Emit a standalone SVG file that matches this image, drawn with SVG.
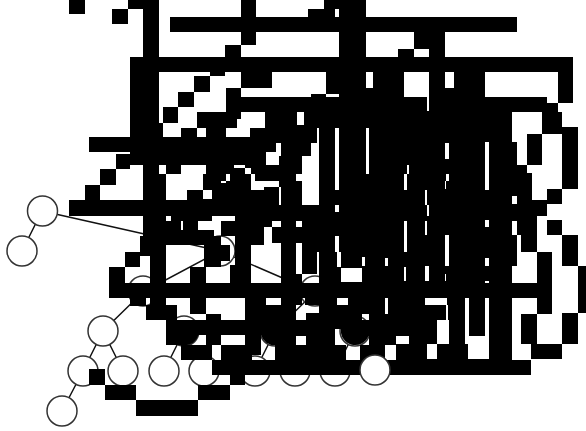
<svg xmlns="http://www.w3.org/2000/svg" width="586" height="431" viewBox="0 0 586 431">
<style>
.n{fill:#fff;stroke:#333;stroke-width:1.5}
.c{fill:none;stroke:#111;stroke-width:1.5}
.k{fill:#000;stroke:none}
</style>
<defs>
<mask id="holes" maskUnits="userSpaceOnUse" x="0" y="0" width="586" height="431">
<rect width="586" height="431" fill="#fff"/>
<g fill="#000">
<rect x="335" y="9" width="4" height="8"/><rect x="326" y="94" width="13" height="3"/>
<rect x="297" y="112" width="7" height="13"/><rect x="427" y="97" width="2" height="14"/>
<rect x="317" y="128" width="2" height="15"/><rect x="311" y="143" width="8" height="13"/><rect x="302" y="156" width="17" height="18"/><rect x="296" y="174" width="23" height="7"/><rect x="302" y="181" width="17" height="24"/>
<rect x="335" y="128" width="4" height="62"/><rect x="366" y="128" width="3" height="46"/><rect x="407" y="165" width="2" height="9"/><rect x="404" y="174" width="3" height="16"/><rect x="445" y="143" width="4" height="16"/><rect x="446" y="174" width="3" height="7"/><rect x="445" y="181" width="1" height="8"/><rect x="485" y="142" width="4" height="48"/><rect x="425" y="190" width="2" height="15"/><rect x="427" y="205" width="2" height="11"/><rect x="335" y="205" width="4" height="7"/><rect x="512" y="196" width="5" height="8"/>
<rect x="276" y="143" width="5" height="13"/><rect x="266" y="152" width="13" height="13"/>
<rect x="221" y="181" width="5" height="2"/><rect x="226" y="174" width="4" height="7"/><rect x="234" y="165" width="11" height="3"/><rect x="245" y="168" width="6" height="6"/><rect x="251" y="174" width="4" height="7"/><rect x="251" y="181" width="28" height="6"/><rect x="251" y="187" width="13" height="3"/><rect x="279" y="187" width="2" height="18"/><rect x="203" y="190" width="9" height="9"/>
<rect x="181" y="221" width="2" height="9"/><rect x="221" y="236" width="14" height="9"/><rect x="230" y="245" width="5" height="20"/><rect x="221" y="261" width="9" height="6"/>
<rect x="296" y="221" width="6" height="6"/><rect x="404" y="221" width="3" height="31"/><rect x="425" y="221" width="2" height="14"/><rect x="485" y="220" width="4" height="7"/><rect x="512" y="221" width="5" height="14"/>
<rect x="335" y="236" width="4" height="16"/><rect x="337" y="252" width="4" height="15"/><rect x="341" y="268" width="21" height="14"/><rect x="362" y="257" width="3" height="9"/><rect x="385" y="258" width="3" height="8"/><rect x="404" y="267" width="2" height="14"/><rect x="425" y="266" width="4" height="15"/><rect x="445" y="235" width="4" height="31"/><rect x="445" y="274" width="1" height="7"/><rect x="485" y="258" width="4" height="8"/><rect x="485" y="281" width="4" height="2"/>
<rect x="296" y="243" width="6" height="31"/><rect x="317" y="252" width="2" height="22"/><rect x="302" y="274" width="17" height="9"/>
<rect x="337" y="298" width="11" height="7"/><rect x="385" y="298" width="3" height="16"/><rect x="425" y="298" width="22" height="7"/><rect x="446" y="305" width="2" height="15"/><rect x="465" y="298" width="4" height="46"/><rect x="469" y="336" width="16" height="8"/><rect x="485" y="298" width="4" height="46"/><rect x="468" y="344" width="21" height="15"/><rect x="437" y="320" width="12" height="24"/><rect x="427" y="344" width="10" height="15"/>
<rect x="396" y="336" width="13" height="8"/><rect x="385" y="345" width="11" height="15"/>
<rect x="335" y="329" width="27" height="16"/><rect x="362" y="336" width="7" height="9"/><rect x="346" y="345" width="14" height="15"/><rect x="362" y="314" width="7" height="6"/>
<rect x="296" y="336" width="10" height="9"/><rect x="296" y="305" width="10" height="15"/><rect x="306" y="305" width="13" height="8"/><rect x="302" y="298" width="3" height="7"/>
</g>
</mask>
</defs>
<g id="connectors">
<path class="c" d="M42 211L22 251M42 211L220 251M220 251L143 292M220 251L315 292M143 292L103 331M143 292L184 331M103 331L83 371M103 331L123 371M83 371L62 411M184 331L164 371M184 331L204 371M315 292L275 331M315 292L355 331M275 331L255 371M275 331L295 371M355 331L335 371M355 331L374 371"/>
</g>
<g id="n1"><circle class="n" cx="42.500" cy="211" r="15"/></g>
<g id="n2"><circle class="n" cx="22" cy="251" r="15"/></g>
<g id="n3"><circle class="n" cx="220" cy="251" r="15"/></g>
<g id="n4"><circle class="n" cx="143" cy="291" r="15"/></g>
<g id="n5"><circle class="n" cx="315" cy="291" r="15"/></g>
<g id="n6"><circle class="n" cx="103" cy="331" r="15"/></g>
<g id="n7"><circle class="n" cx="184" cy="331" r="15"/></g>
<g id="n8"><circle class="n" cx="275" cy="331" r="15"/></g>
<g id="n9"><circle class="n" cx="355" cy="331" r="15"/></g>
<g id="n10"><circle class="n" cx="83" cy="371" r="15"/></g>
<g id="n11"><circle class="n" cx="123" cy="371" r="15"/></g>
<g id="n12"><circle class="n" cx="164" cy="371" r="15"/></g>
<g id="n13"><circle class="n" cx="204" cy="371" r="15"/></g>
<g id="n14"><circle class="n" cx="255" cy="371" r="15"/></g>
<g id="n15"><circle class="n" cx="295" cy="371" r="15"/></g>
<g id="n16"><circle class="n" cx="335" cy="371" r="15"/></g>
<g id="n17"><circle class="n" cx="62" cy="411" r="15"/></g>
<g id="blocks" mask="url(#holes)" fill="#000">
<rect x="69" y="0" width="16" height="14"/><rect x="112" y="9" width="16" height="15"/><rect x="128" y="0" width="31" height="9"/><rect x="143" y="0" width="16" height="57"/>
<rect x="170" y="17" width="347" height="15"/><rect x="241" y="0" width="15" height="45"/><rect x="225" y="45" width="16" height="12"/>
<rect x="130" y="57" width="443" height="15"/><rect x="130" y="72" width="29" height="65"/>
<rect x="210" y="72" width="15" height="4"/><rect x="194" y="76" width="16" height="16"/><rect x="178" y="92" width="16" height="15"/><rect x="163" y="107" width="15" height="16"/>
<rect x="241" y="72" width="31" height="16"/><rect x="226" y="88" width="15" height="24"/><rect x="226" y="97" width="67" height="15"/><rect x="197" y="112" width="44" height="7"/><rect x="197" y="119" width="40" height="9"/><rect x="265" y="112" width="28" height="25"/>
<rect x="159" y="123" width="4" height="14"/><rect x="181" y="128" width="16" height="9"/><rect x="206" y="128" width="20" height="9"/><rect x="250" y="128" width="15" height="9"/>
<rect x="89" y="137" width="204" height="15"/><rect x="130" y="152" width="163" height="13"/><rect x="116" y="154" width="14" height="15"/><rect x="100" y="169" width="16" height="16"/><rect x="85" y="185" width="15" height="15"/>
<rect x="143" y="165" width="16" height="35"/><rect x="159" y="174" width="7" height="26"/><rect x="166" y="165" width="15" height="9"/>
<rect x="206" y="165" width="87" height="35"/><rect x="203" y="174" width="3" height="16"/><rect x="187" y="190" width="19" height="10"/>
<rect x="69" y="200" width="478" height="16"/>
<rect x="143" y="216" width="23" height="20"/><rect x="171" y="216" width="41" height="5"/><rect x="235" y="216" width="58" height="5"/>
<rect x="140" y="236" width="26" height="20"/><rect x="150" y="256" width="16" height="27"/>
<rect x="166" y="221" width="32" height="24"/><rect x="198" y="230" width="16" height="15"/><rect x="204" y="236" width="17" height="9"/><rect x="204" y="245" width="26" height="22"/>
<rect x="221" y="221" width="43" height="15"/><rect x="235" y="236" width="29" height="9"/><rect x="235" y="245" width="16" height="20"/><rect x="230" y="265" width="21" height="18"/><rect x="264" y="221" width="8" height="6"/><rect x="272" y="227" width="21" height="16"/><rect x="281" y="216" width="12" height="67"/>
<rect x="125" y="252" width="15" height="15"/><rect x="109" y="267" width="16" height="16"/><rect x="190" y="267" width="16" height="16"/>
<rect x="109" y="283" width="443" height="15"/>
<rect x="130" y="298" width="16" height="8"/><rect x="150" y="298" width="16" height="7"/><rect x="146" y="305" width="31" height="15"/><rect x="190" y="298" width="16" height="16"/>
<rect x="166" y="320" width="127" height="15"/><rect x="206" y="314" width="15" height="6"/><rect x="206" y="335" width="15" height="10"/><rect x="166" y="335" width="15" height="10"/><rect x="181" y="345" width="31" height="15"/>
<rect x="245" y="298" width="21" height="22"/><rect x="266" y="305" width="27" height="15"/><rect x="281" y="298" width="12" height="7"/>
<rect x="221" y="345" width="31" height="15"/><rect x="245" y="335" width="16" height="20"/><rect x="275" y="335" width="18" height="25"/>
<rect x="212" y="360" width="319" height="15"/><rect x="230" y="375" width="15" height="10"/>
<rect x="89" y="369" width="16" height="16"/><rect x="105" y="385" width="31" height="15"/><rect x="136" y="400" width="62" height="16"/><rect x="198" y="385" width="32" height="15"/>
<rect x="324" y="0" width="42" height="17"/><rect x="308" y="9" width="58" height="8"/><rect x="339" y="32" width="27" height="25"/><rect x="414" y="32" width="31" height="17"/><rect x="429" y="49" width="16" height="8"/><rect x="398" y="49" width="16" height="8"/>
<rect x="326" y="72" width="40" height="25"/><rect x="373" y="72" width="31" height="25"/><rect x="429" y="72" width="16" height="25"/><rect x="445" y="88" width="9" height="9"/><rect x="454" y="72" width="31" height="25"/><rect x="366" y="88" width="7" height="9"/>
<rect x="558" y="72" width="15" height="31"/><rect x="311" y="94" width="15" height="3"/>
<rect x="293" y="97" width="254" height="15"/><rect x="547" y="103" width="11" height="9"/>
<rect x="293" y="112" width="219" height="30"/><rect x="293" y="142" width="224" height="23"/><rect x="293" y="165" width="234" height="8"/><rect x="293" y="173" width="239" height="43"/><rect x="532" y="204" width="15" height="12"/>
<rect x="542" y="112" width="20" height="22"/><rect x="527" y="134" width="15" height="31"/><rect x="562" y="127" width="16" height="62"/><rect x="547" y="189" width="15" height="15"/>
<rect x="293" y="216" width="219" height="144"/><rect x="512" y="216" width="5" height="50"/><rect x="517" y="216" width="20" height="19"/><rect x="521" y="235" width="16" height="17"/>
<rect x="547" y="220" width="15" height="15"/><rect x="562" y="235" width="16" height="31"/><rect x="578" y="266" width="8" height="47"/><rect x="537" y="252" width="15" height="62"/><rect x="562" y="313" width="16" height="31"/><rect x="521" y="314" width="16" height="30"/><rect x="531" y="344" width="31" height="15"/><rect x="512" y="283" width="40" height="15"/>
</g>
<g id="overlaps">
<path class="k" d="M181 335L181 345L184 345.300A14.300 14.300 0 0 0 198.500 335Z"/>
<path class="k" d="M261 335L275 335L275 345.300A14.300 14.300 0 0 1 261 335Z"/>
<path class="k" d="M341 329L362 329L362 336L368.500 336A14.300 14.300 0 0 1 341 329Z"/>
</g>
<g id="n18"><circle class="n" cx="375" cy="370" r="15"/></g>
</svg>
